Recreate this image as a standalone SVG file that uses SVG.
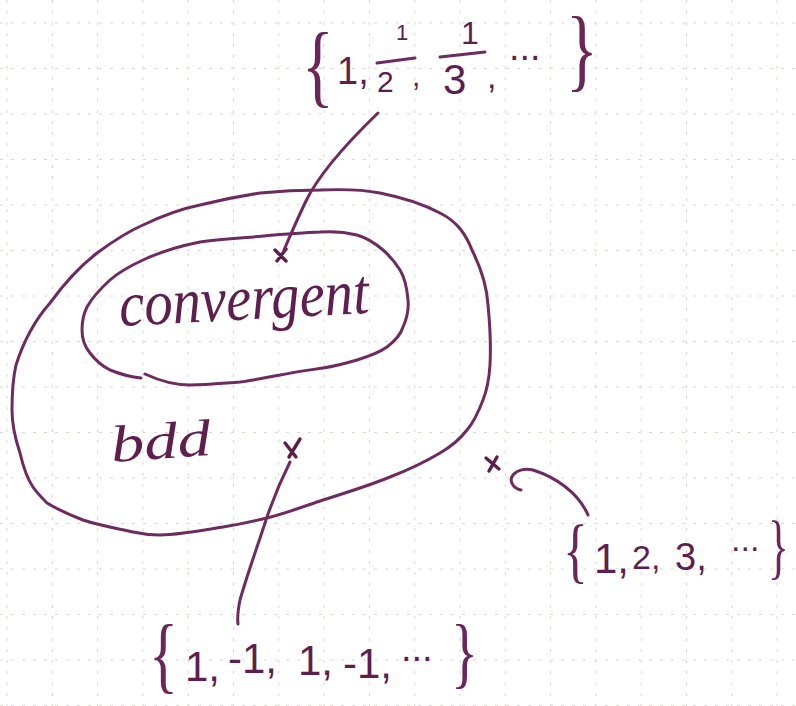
<svg xmlns="http://www.w3.org/2000/svg" width="796" height="706" viewBox="0 0 796 706">
<style>
.grid line{stroke:#dcd8cf;stroke-width:1;stroke-dasharray:3 8}
.ink{fill:none;stroke:#6e2b5f;stroke-width:3;stroke-linecap:round;stroke-linejoin:round}
.mark{fill:none;stroke:#5c1f4c;stroke-width:3.4;stroke-linecap:round}
.hw{fill:#5e1f4e;font-family:"Liberation Serif","DejaVu Serif",serif;font-style:italic}
.m{fill:#5e1f4e;font-family:"Liberation Sans","DejaVu Sans",sans-serif}
.br{fill:#6a2659;font-family:"Liberation Serif","DejaVu Serif",serif}
</style>
<rect width="796" height="706" fill="#ffffff"/>
<g class="grid" id="grid">
<line x1="7" y1="0" x2="7" y2="706"/><line x1="52.3" y1="0" x2="52.3" y2="706"/><line x1="97.6" y1="0" x2="97.6" y2="706"/><line x1="142.9" y1="0" x2="142.9" y2="706"/><line x1="188.2" y1="0" x2="188.2" y2="706"/><line x1="233.5" y1="0" x2="233.5" y2="706"/><line x1="278.8" y1="0" x2="278.8" y2="706"/><line x1="324.1" y1="0" x2="324.1" y2="706"/><line x1="369.4" y1="0" x2="369.4" y2="706"/><line x1="414.7" y1="0" x2="414.7" y2="706"/><line x1="460" y1="0" x2="460" y2="706"/><line x1="505.3" y1="0" x2="505.3" y2="706"/><line x1="550.6" y1="0" x2="550.6" y2="706"/><line x1="595.9" y1="0" x2="595.9" y2="706"/><line x1="641.2" y1="0" x2="641.2" y2="706"/><line x1="686.5" y1="0" x2="686.5" y2="706"/><line x1="731.8" y1="0" x2="731.8" y2="706"/><line x1="777.1" y1="0" x2="777.1" y2="706"/>
<line x1="0" y1="23" x2="796" y2="23"/><line x1="0" y1="68.5" x2="796" y2="68.5"/><line x1="0" y1="114" x2="796" y2="114"/><line x1="0" y1="159.5" x2="796" y2="159.5"/><line x1="0" y1="205" x2="796" y2="205"/><line x1="0" y1="250.5" x2="796" y2="250.5"/><line x1="0" y1="296" x2="796" y2="296"/><line x1="0" y1="341.5" x2="796" y2="341.5"/><line x1="0" y1="387" x2="796" y2="387"/><line x1="0" y1="432.5" x2="796" y2="432.5"/><line x1="0" y1="478" x2="796" y2="478"/><line x1="0" y1="523.5" x2="796" y2="523.5"/><line x1="0" y1="569" x2="796" y2="569"/><line x1="0" y1="614.5" x2="796" y2="614.5"/><line x1="0" y1="660" x2="796" y2="660"/><line x1="0" y1="705.5" x2="796" y2="705.5"/>
</g>

<g id="bounded">
<path class="ink" d="M320,190 C345,189 365,190 380,193 C405,198 425,205 440,213 C458,222 466,235 472,250 C482,270 487,288 488,305 C490,325 491,345 490,365 C489,380 487,390 483,400 C478,413 474,422 467,430 C460,439 452,446 440,453 C425,462 408,470 390,477 C368,486 345,493 323,500 C305,506 287,513 267,518 C250,522 236,525 223,527 C200,531 178,535 160,535 C150,535 142,534 133,532 C115,528 98,525 83,520 C70,515 57,509 47,503 C42,498 37,493 33,487 C26,477 23,466 20,453 C15,438 12,425 12,410 C12,393 13,378 16,365 C24,340 35,320 50,303 C63,285 79,267 97,253 C112,242 127,232 143,225 C162,216 180,209 200,205 C220,200 240,196 260,193 C280,191 300,190 320,190 Z"/>
<text class="hw" x="112" y="462" font-size="52" textLength="100" lengthAdjust="spacingAndGlyphs" transform="rotate(-4 112 462)">bdd</text>
</g>

<g id="convergent">
<path class="ink" d="M145,374 C160,381 175,385 190,385 C208,385 225,383 240,382 C255,380 268,377 280,375 C295,372 310,370 323,368 C336,366 347,363 357,360 C370,356 380,352 387,347 C396,340 401,334 403,327 C407,318 409,310 408,300 C407,288 405,278 400,270 C395,262 390,256 383,250 C375,243 367,238 357,235 C345,232 333,231 320,232 C293,233 265,236 240,238 C225,239 212,240 200,242 C180,246 160,252 143,260 C130,266 119,272 110,280 C99,290 92,298 87,307 C83,315 82,322 82,330 C82,339 85,347 90,353 C96,361 102,366 110,370 C120,374 130,377 141,378"/>
<text class="hw" x="120" y="326" font-size="64" textLength="250" lengthAdjust="spacingAndGlyphs" transform="rotate(-3 120 326)">convergent</text>
</g>

<g id="set-harmonic">
<text class="br" font-size="92" transform="translate(302,96) scale(0.72,1)">{</text>
<text class="m" x="337" y="84" font-size="38">1,</text>
<text class="m" x="396" y="40" font-size="22">1</text>
<line class="ink" x1="377" y1="63" x2="415" y2="58"/>
<text class="m" x="377" y="92" font-size="30">2</text>
<text class="m" x="412" y="86" font-size="30">,</text>
<text class="m" x="461" y="44" font-size="32">1</text>
<line class="ink" x1="440" y1="57" x2="485" y2="52"/>
<text class="m" x="443" y="94" font-size="42">3</text>
<text class="m" x="487" y="88" font-size="34">,</text>
<text class="m" x="509" y="60" font-size="38">...</text>
<text class="br" font-size="92" transform="translate(566,80) scale(0.72,1)">}</text>
</g>

<g id="set-natural">
<text class="br" font-size="72" transform="translate(563,574) scale(0.72,1)">{</text>
<text class="m" x="594" y="573" font-size="42">1,</text>
<text class="m" x="632" y="569" font-size="34">2,</text>
<text class="m" x="675" y="570" font-size="38">3,</text>
<text class="m" x="731" y="551" font-size="34">...</text>
<text class="br" font-size="72" transform="translate(768,570) scale(0.6,1)">}</text>
</g>

<g id="set-alternating">
<text class="br" font-size="84" transform="translate(149,683) scale(0.72,1)">{</text>
<text class="m" x="185" y="681" font-size="42">1,</text>
<text class="m" x="228" y="673" font-size="42">-1,</text>
<text class="m" x="298" y="675" font-size="42">1,</text>
<text class="m" x="343" y="678" font-size="42">-1,</text>
<text class="m" x="401" y="661" font-size="38">...</text>
<text class="br" font-size="78" transform="translate(451,679) scale(0.72,1)">}</text>
</g>

<g id="points">
<path class="mark" d="M275,250 L286,261 M286,249 L277,261"/>
<path class="mark" d="M285,443 L296,457 M300,439 L289,457"/>
<path class="mark" d="M486,458 L499,469 M497,457 L489,471"/>
</g>

<g id="connectors">
<path class="ink" d="M378,113 C350,140 318,175 305,203 C296,222 290,236 284,250"/>
<path class="ink" d="M290,462 C280,482 272,502 266,520 C258,545 247,575 240,600 C238,610 237,616 238,624"/>
<path class="ink" d="M521,490 C512,488 509,480 513,475 C517,470 525,468 533,470 C555,477 578,492 588,515"/>
</g>
</svg>
